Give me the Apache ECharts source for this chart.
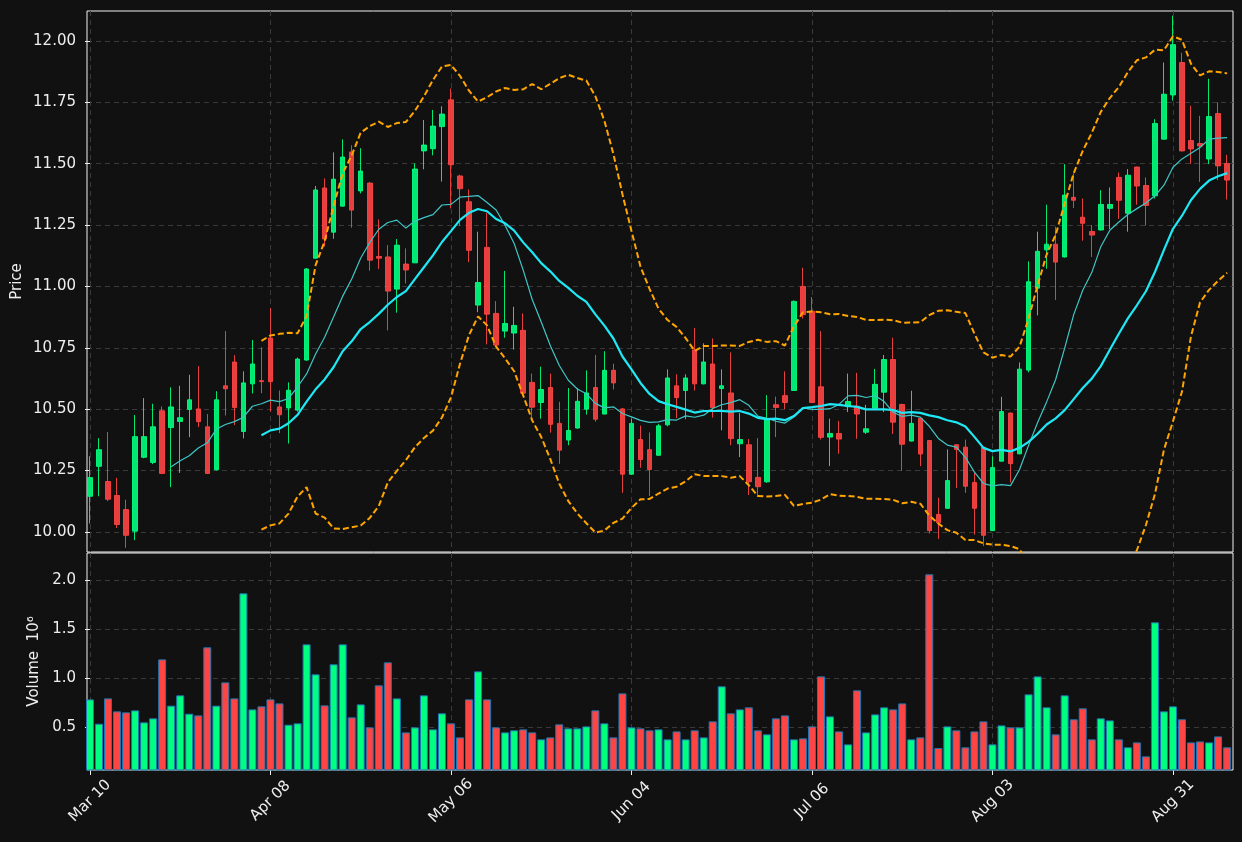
<!DOCTYPE html>
<html>
<head>
<meta charset="utf-8">
<title>Price and volume</title>
<script src="https://cdn.jsdelivr.net/npm/echarts@6/dist/echarts.min.js"></script>
<style>
  html, body { margin: 0; padding: 0; background: #111111; }
  #chart { width: 1242px; height: 842px; }
</style>
</head>
<body>
<div id="chart"></div>
<script>
// daily bars (index 0 = Mar 10)
const opens = [
  10.145,10.267,10.205,10.148,10.091,10.003,10.304,10.283,10.493,10.425,
  10.450,10.499,10.501,10.428,10.253,10.595,10.692,10.409,10.603,10.616,
  10.790,10.509,10.505,10.496,10.700,11.115,11.401,11.221,11.327,11.548,
  11.389,11.421,11.122,11.120,10.989,11.091,11.096,11.552,11.561,11.651,
  11.760,11.450,11.345,10.924,11.159,10.890,10.818,10.810,10.821,10.609,
  10.527,10.588,10.442,10.374,10.423,10.500,10.588,10.480,10.658,10.501,
  10.235,10.376,10.335,10.312,10.436,10.595,10.576,10.741,10.603,10.684,
  10.584,10.566,10.359,10.355,10.222,10.204,10.518,10.555,10.576,11.000,
  10.899,10.591,10.386,10.401,10.510,10.512,10.406,10.504,10.569,10.702,
  10.519,10.370,10.462,10.372,10.071,10.096,10.355,10.345,10.201,10.345,
  10.005,10.288,10.484,10.318,10.659,10.993,11.149,11.172,11.120,11.363,
  11.282,11.224,11.230,11.318,11.444,11.298,11.486,11.411,11.369,11.600,
  11.780,11.912,11.594,11.582,11.519,11.704,11.501
];
const highs = [
  10.308,10.382,10.407,10.220,10.131,10.476,10.545,10.522,10.511,10.589,
  10.595,10.640,10.675,10.480,10.573,10.818,10.720,10.654,10.782,10.752,
  10.912,10.576,10.609,10.710,11.075,11.409,11.440,11.546,11.599,11.575,
  11.563,11.425,11.273,11.168,11.193,11.155,11.501,11.678,11.719,11.734,
  11.806,11.455,11.395,11.223,11.300,10.940,11.063,10.917,10.890,10.645,
  10.673,10.645,10.530,10.586,10.586,10.658,10.721,10.736,10.685,10.505,
  10.461,10.433,10.405,10.440,10.662,10.642,10.642,10.831,10.768,10.788,
  10.662,10.731,10.484,10.378,10.382,10.557,10.551,10.654,10.943,11.076,
  10.957,10.818,10.461,10.452,10.645,10.648,10.518,10.664,10.721,10.791,
  10.522,10.575,10.465,10.374,10.139,10.336,10.357,10.376,10.240,10.347,
  10.308,10.550,10.486,10.690,11.102,11.223,11.333,11.243,11.498,11.461,
  11.358,11.250,11.392,11.403,11.464,11.478,11.488,11.444,11.681,11.912,
  12.103,11.952,11.736,11.695,11.846,11.750,11.536
];
const lows = [
  10.034,10.145,10.125,10.016,9.935,9.966,10.300,10.276,10.236,10.182,
  10.240,10.386,10.427,10.236,10.250,10.474,10.435,10.381,10.564,10.565,
  10.490,10.402,10.360,10.490,10.697,11.113,11.162,11.194,11.325,11.239,
  11.379,11.064,11.071,10.821,10.893,11.012,11.095,11.477,11.534,11.427,
  11.318,11.247,11.099,10.895,10.764,10.759,10.791,10.743,10.563,10.465,
  10.461,10.404,10.277,10.353,10.420,10.478,10.449,10.479,10.580,10.159,
  10.233,10.261,10.146,10.310,10.430,10.464,10.459,10.576,10.601,10.466,
  10.414,10.353,10.305,10.150,10.143,10.200,10.386,10.500,10.575,10.869,
  10.525,10.376,10.268,10.318,10.488,10.379,10.399,10.503,10.488,10.399,
  10.249,10.368,10.268,9.993,9.971,10.094,10.179,10.159,9.989,9.942,
  10.003,10.287,10.202,10.316,10.650,10.882,11.072,10.945,11.118,11.319,
  11.186,11.120,11.228,11.234,11.275,11.223,11.333,11.248,11.358,11.598,
  11.757,11.550,11.499,11.426,11.498,11.433,11.354
];
const closes = [
  10.221,10.335,10.133,10.030,9.986,10.388,10.388,10.428,10.238,10.509,
  10.465,10.538,10.449,10.238,10.538,10.583,10.507,10.607,10.684,10.612,
  10.612,10.477,10.577,10.704,11.071,11.393,11.193,11.437,11.527,11.311,
  11.470,11.107,11.115,10.981,11.168,11.067,11.478,11.576,11.653,11.702,
  11.496,11.398,11.147,11.016,10.887,10.761,10.849,10.841,10.565,10.508,
  10.580,10.438,10.333,10.413,10.532,10.566,10.459,10.658,10.607,10.235,
  10.442,10.295,10.254,10.432,10.627,10.547,10.627,10.603,10.692,10.507,
  10.595,10.380,10.376,10.204,10.184,10.459,10.507,10.527,10.939,10.885,
  10.527,10.385,10.401,10.378,10.531,10.480,10.420,10.601,10.702,10.447,
  10.357,10.442,10.317,10.005,10.037,10.209,10.336,10.186,10.096,9.986,
  10.262,10.490,10.278,10.663,11.019,11.143,11.172,11.099,11.372,11.351,
  11.257,11.209,11.334,11.334,11.351,11.453,11.409,11.330,11.664,11.783,
  11.985,11.552,11.560,11.572,11.692,11.491,11.433
];
// volume in millions
const volumeM = [
  0.785,0.537,0.795,0.663,0.653,0.673,0.551,0.592,1.192,0.721,
  0.826,0.639,0.622,1.315,0.721,0.958,0.795,1.864,0.683,0.714,
  0.785,0.744,0.527,0.541,1.345,1.040,0.724,1.142,1.345,0.602,
  0.734,0.500,0.928,1.162,0.795,0.449,0.500,0.826,0.480,0.643,
  0.541,0.398,0.785,1.070,0.785,0.500,0.449,0.470,0.480,0.449,
  0.378,0.398,0.531,0.490,0.490,0.510,0.673,0.541,0.398,0.846,
  0.500,0.490,0.470,0.480,0.378,0.459,0.378,0.470,0.398,0.561,
  0.918,0.643,0.683,0.704,0.470,0.429,0.592,0.622,0.378,0.388,
  0.510,1.019,0.612,0.459,0.327,0.877,0.449,0.632,0.704,0.683,
  0.744,0.378,0.398,2.058,0.290,0.510,0.470,0.297,0.459,0.561,
  0.327,0.520,0.500,0.500,0.836,1.019,0.704,0.429,0.826,0.582,
  0.694,0.378,0.592,0.571,0.378,0.297,0.347,0.205,1.569,0.663,
  0.714,0.582,0.347,0.357,0.347,0.408,0.297
];
// one date label every 20 bars
const dateLabels = ['Mar 10', 'Apr 08', 'May 06', 'Jun 04', 'Jul 06', 'Aug 03', 'Aug 31'];
const labelStep = 20;
const priceTicks = [10.00, 10.25, 10.50, 10.75, 11.00, 11.25, 11.50, 11.75, 12.00];
const volumeTicks = [0.5, 1.0, 1.5, 2.0];

const UP = '#00ff80';
const DOWN = '#ff4444';
const TXT = '#eeeeee';
const GRIDLINE = { show: true, lineStyle: { color: '#3a3a3a', width: 1, type: [5, 4] } };

const xTicks = dateLabels.map((d, k) => k * labelStep);

// rolling mean of the closes
function rollingMean(n) {
  const out = [];
  for (let i = n - 1; i < closes.length; i++) {
    let s = 0;
    for (let k = i - n + 1; k <= i; k++) s += closes[k];
    out.push([i, s / n]);
  }
  return out;
}
// bollinger bands: mean +/- 2 std over n bars
function bollinger(n, m) {
  const up = [], lo = [];
  for (let i = n - 1; i < closes.length; i++) {
    let s = 0;
    for (let k = i - n + 1; k <= i; k++) s += closes[k];
    const mean = s / n;
    let v = 0;
    for (let k = i - n + 1; k <= i; k++) v += (closes[k] - mean) * (closes[k] - mean);
    const sd = Math.sqrt(v / n);
    up.push([i, mean + m * sd]);
    lo.push([i, mean - m * sd]);
  }
  return { up, lo };
}

const candleData = opens.map((o, i) => [i, o, closes[i], lows[i], highs[i]]);
const volData = volumeM.map((v, i) => ({
  value: [i, v],
  itemStyle: { color: closes[i] >= opens[i] ? UP : DOWN }
}));
const ma10 = rollingMean(10);
const ma20 = rollingMean(20);
const bb = bollinger(20, 2);

const xMin = -0.33, xMax = 126.65;

function xAxis(gridIndex, showLabels) {
  return {
    type: 'value', gridIndex: gridIndex, min: xMin, max: xMax,
    axisLine: { show: false },
    axisTick: { show: showLabels, customValues: xTicks, length: 5, lineStyle: { color: TXT } },
    axisLabel: {
      show: showLabels, customValues: xTicks, rotate: 45, margin: 31,
      align: 'center', verticalAlign: 'middle',
      color: TXT, fontSize: 15, fontFamily: 'DejaVu Sans',
      formatter: v => dateLabels[Math.round(v / labelStep)] || ''
    },
    splitLine: GRIDLINE
  };
}

const chart = echarts.init(document.getElementById('chart'));
chart.setOption({
  backgroundColor: '#111111',
  animation: false,
  textStyle: { fontFamily: 'DejaVu Sans' },
  grid: [
    { left: 87, top: 11, width: 1146, height: 541, show: true, borderColor: '#f2f2f2', borderWidth: 1, backgroundColor: '#111111' },
    { left: 87, top: 553, width: 1146, height: 217, show: true, borderColor: '#f2f2f2', borderWidth: 1, backgroundColor: '#111111' }
  ],
  xAxis: [xAxis(0, false), xAxis(1, true)],
  yAxis: [
    {
      type: 'value', gridIndex: 0, min: 9.918, max: 12.122,
      name: 'Price', nameLocation: 'middle', nameRotate: 90, nameGap: 62, nameMoveOverlap: false,
      nameTextStyle: { color: TXT, fontSize: 15, fontFamily: 'DejaVu Sans' },
      axisLine: { show: false },
      axisTick: { show: true, customValues: priceTicks, length: 5, lineStyle: { color: TXT } },
      axisLabel: { customValues: priceTicks, color: TXT, fontSize: 15, margin: 11, formatter: v => v.toFixed(2) },
      splitLine: GRIDLINE
    },
    {
      type: 'value', gridIndex: 1, min: 0.066, max: 2.275,
      name: 'Volume  10\u2076', nameLocation: 'middle', nameRotate: 90, nameGap: 45, nameMoveOverlap: false,
      nameTextStyle: { color: TXT, fontSize: 15, fontFamily: 'DejaVu Sans' },
      axisLine: { show: false },
      axisTick: { show: true, customValues: volumeTicks, length: 5, lineStyle: { color: TXT } },
      axisLabel: { customValues: volumeTicks, color: TXT, fontSize: 15, margin: 11, formatter: v => v.toFixed(1) },
      splitLine: GRIDLINE
    }
  ],
  series: [
    {
      type: 'candlestick', xAxisIndex: 0, yAxisIndex: 0,
      data: candleData, barWidth: 5,
      itemStyle: { color: UP, color0: DOWN, borderColor: UP, borderColor0: DOWN, borderWidth: 1, opacity: 0.9 }
    },
    {
      type: 'line', name: 'MA10', xAxisIndex: 0, yAxisIndex: 0, data: ma10,
      showSymbol: false, lineStyle: { color: '#3fc6c6', width: 1.2 }, z: 3
    },
    {
      type: 'line', name: 'MA20', xAxisIndex: 0, yAxisIndex: 0, data: ma20,
      showSymbol: false, lineStyle: { color: '#1fe8f5', width: 2.2 }, z: 3
    },
    {
      type: 'line', name: 'BB upper', xAxisIndex: 0, yAxisIndex: 0, data: bb.up,
      showSymbol: false, lineStyle: { color: '#ffa500', width: 2, type: [6, 3] }, z: 3
    },
    {
      type: 'line', name: 'BB lower', xAxisIndex: 0, yAxisIndex: 0, data: bb.lo,
      showSymbol: false, lineStyle: { color: '#ffa500', width: 2, type: [6, 3] }, z: 3
    },
    {
      type: 'bar', name: 'Volume', xAxisIndex: 1, yAxisIndex: 1, data: volData,
      barWidth: 8, clip: true,
      itemStyle: { borderColor: '#1f77b4', borderWidth: 1 }
    }
  ]
});
</script>
</body>
</html>
